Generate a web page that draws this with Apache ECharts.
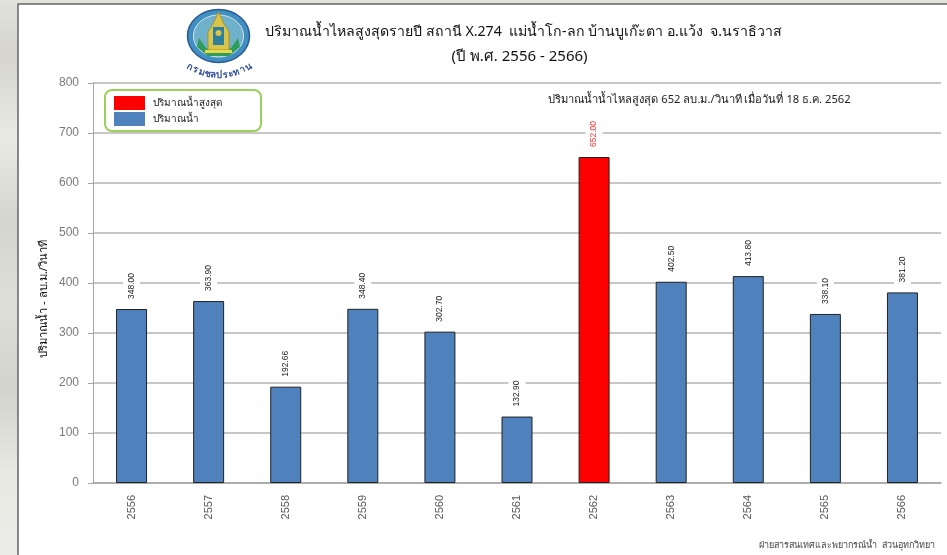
<!DOCTYPE html>
<html><head><meta charset="utf-8">
<style>html,body{margin:0;padding:0;background:#e3e3de;overflow:hidden}#c{width:947px;height:555px}</style>
<script src="https://cdn.jsdelivr.net/npm/echarts@6/dist/echarts.min.js"></script>
</head><body><div id="c"></div>
<script>
const years = ['2556','2557','2558','2559','2560','2561','2562','2563','2564','2565','2566'];
const flowValues = [348.00,363.90,192.66,348.40,302.70,132.90,null,402.50,413.80,338.10,381.20];
const peakValues = [null,null,null,null,null,null,652.00,null,null,null,null];
const titleLine1 = 'ปริมาณน้ำไหลสูงสุดรายปี สถานี X.274  แม่น้ำโก-ลก บ้านบูเก๊ะตา อ.แว้ง  จ.นราธิวาส';
const titleLine2 = '(ปี พ.ศ. 2556 - 2566)';
const note = 'ปริมาณน้ำน้ำไหลสูงสุด 652 ลบ.ม./วินาที เมื่อวันที่ 18 ธ.ค. 2562';
const footer = 'ฝ่ายสารสนเทศและพยากรณ์น้ำ  ส่วนอุทกวิทยา';
const yName = 'ปริมาณน้ำ - ลบ.ม./วินาที';
const peakName = 'ปริมาณน้ำสูงสุด';
const flowName = 'ปริมาณน้ำ';
const sealGlyphs = ['ก','ร','ม','ช','ล','ป','ร','ะ','ท','า','น'];

const FONT = '"Noto Sans","Liberation Sans",sans-serif';
const chart = echarts.init(document.getElementById('c'), null, {renderer:'canvas'});

function t(x,y,text,size,color){
  return {type:'text',x,y,z:5,style:{text,font:size+'px '+FONT,fill:color,textAlign:'center',textVerticalAlign:'middle'}};
}
const stripe = {type:'rect',z:-3,shape:{x:0,y:0,width:18,height:555},style:{fill:{type:'linear',x:0,y:0,x2:0,y2:1,colorStops:[
  {offset:0,color:'#e2e2dd'},{offset:.1,color:'#d5d5ce'},{offset:.25,color:'#eaeae5'},{offset:.4,color:'#d4d5cf'},
  {offset:.55,color:'#dedfd9'},{offset:.7,color:'#d2d3cd'},{offset:.85,color:'#e8e8e3'},{offset:1,color:'#ecece8'}]}}};

const seal = [
  {type:'ellipse',z:5,shape:{cx:218.5,cy:36,rx:31,ry:26.5},style:{fill:'#3f8fc0',stroke:'#2a5a94',lineWidth:1.5}},
  {type:'ellipse',z:5,shape:{cx:218.5,cy:36,rx:25,ry:21},style:{fill:'#6fb0cb',stroke:'#d9e6ea',lineWidth:1}},
  {type:'polygon',z:6,shape:{points:[[199,38],[206,48],[218,51],[231,48],[238,38],[240,47],[229,56],[208,56],[197,47]]},style:{fill:'#2f9c5a'}},
  {type:'polygon',z:6,shape:{points:[[218.5,12],[224,24],[229,32],[229,50],[208,50],[208,32],[213,24]]},style:{fill:'#d8c54a',stroke:'#a8962a',lineWidth:1}},
  {type:'rect',z:7,shape:{x:213,y:27,width:11,height:18},style:{fill:'#2f7f9a'}},
  {type:'circle',z:8,shape:{cx:218.5,cy:33,r:3},style:{fill:'#d8c54a'}},
  {type:'rect',z:8,shape:{x:205,y:50,width:27,height:3},style:{fill:'#e6d850'}}
];
const sealText = sealGlyphs.map((g,i)=>{
  const x = 190 + i*5.8, u = (x-219)/31;
  const y = 66 + 9*(1-u*u);
  return {type:'text',z:6,x,y,rotation:Math.atan(18*(x-219)/(31*31)),
    style:{text:g,font:'bold 9.5px '+FONT,fill:'#2f4f9a',textAlign:'center',textVerticalAlign:'middle'}};
});
const barLabel = color => ({show:true,position:'top',rotate:90,align:'left',verticalAlign:'middle',distance:8,fontSize:8.5,color,
  backgroundColor:'#fff',padding:[4,2,4,2],formatter:p=>p.value==null?'':p.value.toFixed(2)});

chart.setOption({
  animation:false,
  backgroundColor:'transparent',
  textStyle:{fontFamily:'"Liberation Sans",sans-serif'},
  grid:{left:93,right:6,top:83,bottom:72,containLabel:false},
  legend:{
    left:105,top:90,orient:'vertical',icon:'rect',itemWidth:31,itemHeight:14,itemGap:2,
    padding:[6,39,5,9],
    backgroundColor:'#fff',borderColor:'#9bd05a',borderWidth:2,borderRadius:7,
    data:[peakName,flowName],
    textStyle:{fontFamily:FONT,fontSize:10,color:'#222',padding:[0,0,0,3]},
    itemStyle:{borderWidth:0}
  },
  xAxis:{type:'category',data:years,
    axisLine:{lineStyle:{color:'#a6a6a6',width:1.5}},
    axisTick:{alignWithLabel:true,length:5,lineStyle:{color:'#a6a6a6'}},
    axisLabel:{rotate:90,fontSize:11,color:'#595959',margin:12},
    splitLine:{show:false}},
  yAxis:{type:'value',min:0,max:800,interval:100,
    axisLine:{show:true,lineStyle:{color:'#a6a6a6',width:1}},
    axisTick:{show:true,length:5,lineStyle:{color:'#a6a6a6'}},
    axisLabel:{fontSize:12,color:'#7a7a7a',margin:14},
    splitLine:{show:true,lineStyle:{color:'#b4b4b4',width:1.5}}},
  series:[
    {name:peakName,type:'bar',data:peakValues,barWidth:31,barGap:'-100%',
      itemStyle:{color:'#ff0000',borderColor:'#222',borderWidth:1},label:barLabel('#ff3030')},
    {name:flowName,type:'bar',data:flowValues,barWidth:31,
      itemStyle:{color:'#4f81bd',borderColor:'#222',borderWidth:1},label:barLabel('#222')}
  ],
  graphic:{elements:[
    {type:'rect',z:-2,shape:{x:18,y:4,width:960,height:570},style:{fill:'#fff',stroke:'#666',lineWidth:1.5}},
    stripe, ...seal, ...sealText,
    t(523.5,32,titleLine1,14.15,'#111'),
    t(519.5,57,titleLine2,15,'#111'),
    t(699.5,100,note,11.2,'#222'),
    t(847,545,footer,9,'#444'),
    {type:'text',z:5,x:44,y:299,rotation:Math.PI/2,style:{text:yName,font:'11.2px '+FONT,fill:'#111',textAlign:'center',textVerticalAlign:'middle'}}
  ]}
});
</script></body></html>
